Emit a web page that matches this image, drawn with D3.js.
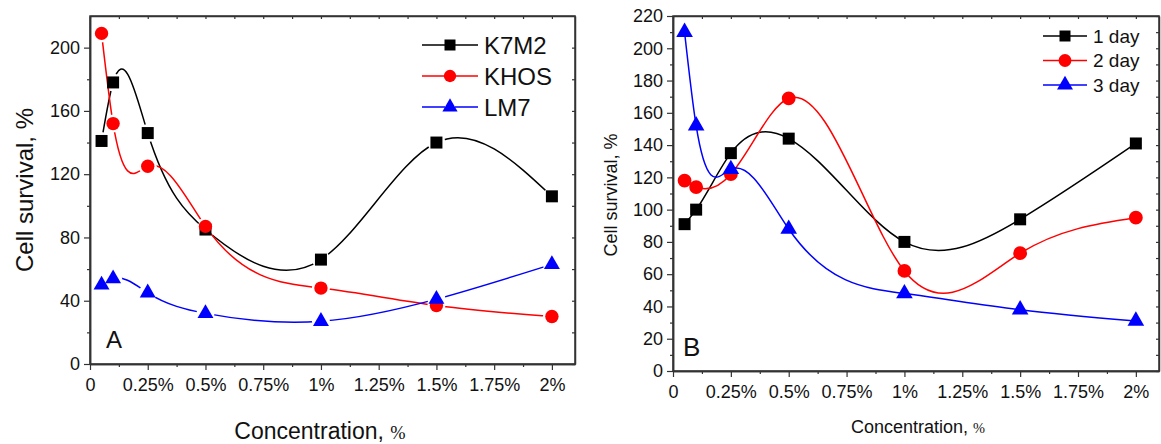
<!DOCTYPE html>
<html>
<head>
<meta charset="utf-8">
<script src="https://cdn.jsdelivr.net/npm/d3@7"></script>
<style>
body { margin: 0; background: #fff; }
svg { display: block; font-family: "Liberation Sans", Arial, sans-serif; }
</style>
</head>
<body>
<div class="chart"></div>
<script>
// concentrations, %
var conc = [0.05, 0.1, 0.25, 0.5, 1, 1.5, 2];
var xTicks = [0, 0.25, 0.5, 0.75, 1, 1.25, 1.5, 1.75, 2];

// panel A
var k7m2 = [141, 178, 146, 85, 66, 140, 106];
var khos = [209, 152, 125, 87, 48, 37, 30];
var lm7 = [50, 54, 45, 32, 27, 41, 63];
var namesA = ["K7M2", "KHOS", "LM7"];

// panel B
var day1 = [91, 100, 135, 144, 80, 94, 141];
var day2 = [118, 114, 122, 169, 62, 73, 95];
var day3 = [210, 152, 125, 88, 48, 38, 31];
var namesB = ["1 day", "2 day", "3 day"];

var colors = ["#000000", "#ff0000", "#0000ff"];
var shapes = [d3.symbolSquare, d3.symbolCircle, d3.symbolTriangle];

// natural cubic spline y(x), as a d3 curve (Origin-like spline connection)
function curveSplineX(context) {
	var xs, ys;
	return {
		lineStart: function () { xs = []; ys = []; },
		lineEnd: function () {
			var n = xs.length;
			if (!n) return;
			context.moveTo(xs[0], ys[0]);
			if (n < 3) {
				if (n === 2) context.lineTo(xs[1], ys[1]);
				return;
			}
			// second derivatives, natural ends
			var h = [], a = [], b = [], c = [], r = [], m = new Array(n).fill(0);
			for (var i = 0; i < n - 1; i++) h[i] = xs[i + 1] - xs[i];
			for (i = 1; i < n - 1; i++) {
				a[i] = h[i - 1];
				b[i] = 2 * (h[i - 1] + h[i]);
				c[i] = h[i];
				r[i] = 6 * ((ys[i + 1] - ys[i]) / h[i] - (ys[i] - ys[i - 1]) / h[i - 1]);
			}
			for (i = 2; i < n - 1; i++) {
				var w = a[i] / b[i - 1];
				b[i] -= w * c[i - 1];
				r[i] -= w * r[i - 1];
			}
			for (i = n - 2; i >= 1; i--) {
				m[i] = (r[i] - (i < n - 2 ? c[i] * m[i + 1] : 0)) / b[i];
			}
			for (i = 0; i < n - 1; i++) {
				var s = (ys[i + 1] - ys[i]) / h[i];
				var d0 = s - h[i] * (2 * m[i] + m[i + 1]) / 6;
				var d1 = s + h[i] * (m[i] + 2 * m[i + 1]) / 6;
				context.bezierCurveTo(
					xs[i] + h[i] / 3, ys[i] + d0 * h[i] / 3,
					xs[i + 1] - h[i] / 3, ys[i + 1] - d1 * h[i] / 3,
					xs[i + 1], ys[i + 1]);
			}
		},
		areaStart: function () {},
		areaEnd: function () {},
		point: function (x, y) { xs.push(+x); ys.push(+y); }
	};
}

var svg = d3.select('.chart')
	.append('svg')
	.attr('width', 1161)
	.attr('height', 444);

function fmtX(d) {
	return d === 0 ? "0" : d + "%";
}

function drawPanel(p) {
	var g = svg.append('g').attr('class', 'panel-' + p.id);

	var x = d3.scaleLinear().domain([0, 2.1]).range([p.x0, p.x1]);
	var y = d3.scaleLinear().domain([0, 220]).range([p.y0, p.y1]);

	var majorY = d3.range(0, 220 + 1e-9, p.yStep);
	var minorY = d3.range(p.yStep / 2, 220, p.yStep);
	var minorX = d3.range(0.125, 2.1, 0.25);

	// frame
	g.append('rect')
		.attr('x', p.x0).attr('y', p.y1)
		.attr('width', p.x1 - p.x0).attr('height', p.y0 - p.y1)
		.attr('fill', 'none').attr('stroke', '#333').attr('stroke-width', 1.5);

	// bottom axis
	g.append('g')
		.attr('transform', 'translate(0,' + p.y0 + ')')
		.call(d3.axisBottom(x).tickValues(xTicks).tickFormat(fmtX).tickSize(6).tickSizeOuter(0).tickPadding(8));
	g.append('g')
		.attr('transform', 'translate(0,' + p.y0 + ')')
		.call(d3.axisBottom(x).tickValues(minorX).tickFormat('').tickSize(3).tickSizeOuter(0));
	// top ticks
	g.append('g')
		.attr('transform', 'translate(0,' + p.y1 + ')')
		.call(d3.axisTop(x).tickValues(xTicks.concat(minorX)).tickFormat('').tickSize(-3).tickSizeOuter(0));

	// left axis
	g.append('g')
		.attr('transform', 'translate(' + p.x0 + ',0)')
		.call(d3.axisLeft(y).tickValues(majorY).tickSize(6).tickSizeOuter(0).tickPadding(4));
	g.append('g')
		.attr('transform', 'translate(' + p.x0 + ',0)')
		.call(d3.axisLeft(y).tickValues(minorY).tickFormat('').tickSize(3).tickSizeOuter(0));
	// right ticks
	g.append('g')
		.attr('transform', 'translate(' + p.x1 + ',0)')
		.call(d3.axisRight(y).tickValues(majorY.concat(minorY)).tickFormat('').tickSize(-3).tickSizeOuter(0));

	g.selectAll('.domain').attr('stroke', '#333').attr('stroke-width', 1.5);
	g.selectAll('.tick line').attr('stroke', '#333').attr('stroke-width', 1.2);
	g.selectAll('.tick text')
		.attr('fill', '#111')
		.style('font-family', '"Liberation Sans", Arial, sans-serif')
		.style('font-size', p.tickFont + 'px');

	// axis titles
	var xt = g.append('text')
		.attr('x', p.xLabelX).attr('y', p.xLabelY)
		.attr('text-anchor', 'middle')
		.attr('fill', '#111')
		.style('font-size', p.xLabelFont + 'px');
	xt.append('tspan').text('Concentration, ');
	xt.append('tspan')
		.style('font-family', '"Liberation Serif", serif')
		.style('font-size', (p.xLabelFont * 0.8) + 'px')
		.text('%');

	g.append('text')
		.attr('transform', 'translate(' + p.yLabelX + ',' + p.yLabelY + ') rotate(-90)')
		.attr('text-anchor', 'middle')
		.attr('fill', '#111')
		.style('font-size', p.yLabelFont + 'px')
		.text('Cell survival, %');

	// panel letter
	g.append('text')
		.attr('x', p.letterX).attr('y', p.letterY)
		.attr('fill', '#111')
		.style('font-size', p.letterFont + 'px')
		.text(p.id);

	var line = d3.line()
		.x(function (d) { return x(d[0]); })
		.y(function (d) { return y(d[1]); })
		.curve(curveSplineX);

	p.series.forEach(function (vals, i) {
		var pts = conc.map(function (c, k) { return [c, vals[k]]; });
		var path = g.append('path')
			.datum(pts)
			.attr('d', line)
			.attr('fill', 'none')
			.attr('stroke', colors[i])
			.attr('stroke-width', 1.5);

		if (p.gap) {
			// gap around the markers, only for this series' own line
			var mid = 'gap-' + p.id + i;
			var mask = svg.append('defs').append('mask').attr('id', mid)
				.attr('maskUnits', 'userSpaceOnUse')
				.attr('x', 0).attr('y', 0).attr('width', 1161).attr('height', 444);
			mask.append('rect').attr('width', 1161).attr('height', 444).attr('fill', '#fff');
			mask.selectAll('circle').data(pts).enter().append('circle')
				.attr('cx', function (d) { return x(d[0]); })
				.attr('cy', function (d) { return y(d[1]); })
				.attr('r', p.gap)
				.attr('fill', '#000');
			path.attr('mask', 'url(#' + mid + ')');
		}
	});

	p.series.forEach(function (vals, i) {
		g.append('g').selectAll('path')
			.data(conc.map(function (c, k) { return [c, vals[k]]; }))
			.enter().append('path')
			.attr('transform', function (d) { return 'translate(' + x(d[0]) + ',' + y(d[1]) + ')'; })
			.attr('d', d3.symbol().type(shapes[i]).size(p.markSizes[i]))
			.attr('fill', colors[i]);
	});

	// legend
	var lg = g.append('g');
	p.names.forEach(function (name, i) {
		var ly = p.legY + i * p.legStep;
		var row = lg.append('g');
		if (p.gap) {
			row.append('line').attr('x1', p.legX0).attr('x2', p.legMid - 5).attr('y1', ly).attr('y2', ly)
				.attr('stroke', colors[i]).attr('stroke-width', 1.5);
			row.append('line').attr('x1', p.legMid + 5).attr('x2', p.legX1).attr('y1', ly).attr('y2', ly)
				.attr('stroke', colors[i]).attr('stroke-width', 1.5);
		} else {
			row.append('line').attr('x1', p.legX0).attr('x2', p.legX1).attr('y1', ly).attr('y2', ly)
				.attr('stroke', colors[i]).attr('stroke-width', 1.5);
		}
		row.append('path')
			.attr('transform', 'translate(' + p.legMid + ',' + ly + ')')
			.attr('d', d3.symbol().type(shapes[i]).size(p.legSizes[i]))
			.attr('fill', colors[i]);
		row.append('text')
			.attr('x', p.legX1 + 6).attr('y', ly)
			.attr('dy', '0.36em')
			.attr('fill', '#111')
			.style('font-size', p.legFont + 'px')
			.text(name);
	});
}

drawPanel({
	id: 'A',
	x0: 90, x1: 575, y0: 364, y1: 16, yStep: 40,
	series: [k7m2, khos, lm7], names: namesA,
	tickFont: 18, xLabelFont: 23, yLabelFont: 24, letterFont: 24,
	xLabelX: 320, xLabelY: 439, yLabelX: 33, yLabelY: 190,
	letterX: 106, letterY: 348,
	markSizes: [144, 140, 110], legSizes: [121, 120, 100],
	gap: 9,
	legX0: 422, legMid: 450, legX1: 478, legY: 45, legStep: 31, legFont: 24
});

drawPanel({
	id: 'B',
	x0: 673, x1: 1159, y0: 371, y1: 16, yStep: 20,
	series: [day1, day2, day3], names: namesB,
	tickFont: 18, xLabelFont: 18, yLabelFont: 18, letterFont: 26,
	xLabelX: 918, xLabelY: 433, yLabelX: 617, yLabelY: 195,
	letterX: 683, letterY: 356,
	markSizes: [144, 150, 120], legSizes: [121, 130, 110],
	gap: 0,
	legX0: 1043, legMid: 1065, legX1: 1087, legY: 36, legStep: 24.5, legFont: 19
});
</script>
</body>
</html>
